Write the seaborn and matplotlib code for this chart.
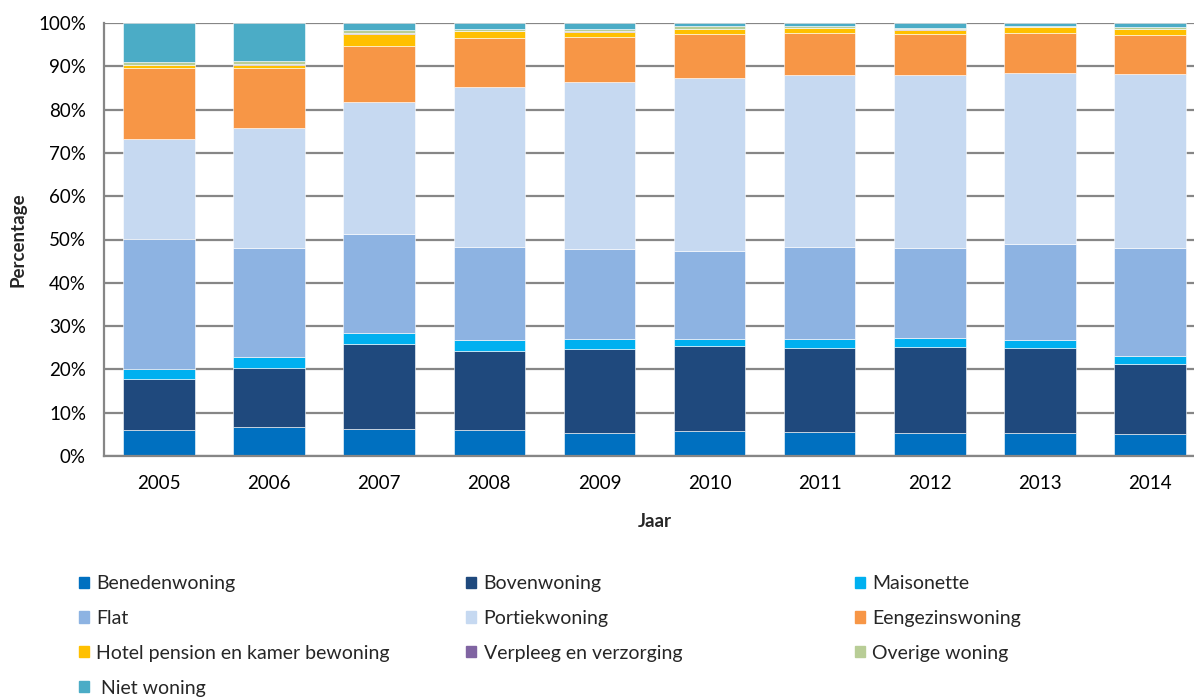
import matplotlib
matplotlib.use("Agg")
import matplotlib.pyplot as plt
import matplotlib.patches as mpatches
from matplotlib.ticker import FuncFormatter
import numpy as np
import seaborn as sns

years = ["2005", "2006", "2007", "2008", "2009", "2010", "2011", "2012", "2013", "2014"]

benedenwoning = [5.9, 6.8, 6.2, 5.9, 5.3, 5.7, 5.5, 5.4, 5.4, 5.0]
bovenwoning = [11.9, 13.6, 19.6, 18.3, 19.4, 19.7, 19.4, 19.8, 19.5, 16.3]
maisonette = [2.4, 2.4, 2.5, 2.6, 2.3, 1.6, 2.1, 2.0, 1.9, 1.9]
flat = [29.9, 25.3, 22.9, 21.5, 20.8, 20.4, 21.2, 20.9, 22.1, 24.9]
portiekwoning = [23.2, 27.7, 30.6, 37.0, 38.6, 39.9, 39.8, 39.8, 39.6, 40.1]
eengezinswoning = [16.3, 13.8, 12.9, 11.2, 10.4, 10.2, 9.7, 9.5, 9.1, 9.0]
hotel = [0.6, 0.8, 2.7, 1.6, 1.2, 1.0, 1.1, 1.0, 1.4, 1.3]
verpleeg = [0.1, 0.2, 0.2, 0.1, 0.1, 0.1, 0.1, 0.1, 0.1, 0.1]
overige = [0.8, 0.7, 0.7, 0.5, 0.6, 0.6, 0.3, 0.3, 0.2, 0.4]
niet_woning = [8.9, 8.7, 1.7, 1.3, 1.3, 0.8, 0.8, 1.2, 0.7, 1.0]

series = [
    ("Benedenwoning", benedenwoning, "#0070C0"),
    ("Bovenwoning", bovenwoning, "#1F497D"),
    ("Maisonette", maisonette, "#00B0F0"),
    ("Flat", flat, "#8DB3E2"),
    ("Portiekwoning", portiekwoning, "#C6D9F1"),
    ("Eengezinswoning", eengezinswoning, "#F79646"),
    ("Hotel pension en kamer bewoning", hotel, "#FFC000"),
    ("Verpleeg en verzorging", verpleeg, "#8064A2"),
    ("Overige woning", overige, "#B8CD96"),
    (" Niet woning", niet_woning, "#4BACC6"),
]

sns.set_style("white")
plt.rcParams["font.family"] = ["Lato", "DejaVu Sans"]
FS = 13.5

W, H = 1194, 697
fig = plt.figure(figsize=(W / 100, H / 100), dpi=100)
ax = fig.add_axes([104 / W, 1 - 456 / H, 1101 / W, 433 / H])

bottom = np.zeros(len(years))
for name, vals, col in series:
    sns.barplot(x=years, y=vals, bottom=bottom, color=col, saturation=1, width=0.65,
                edgecolor="#FFFFFF", linewidth=0.4, errorbar=None, ax=ax, zorder=2)
    bottom = bottom + np.array(vals)

ax.set_xlim(-0.5, 9.5)
ax.set_ylim(0, 100)
ax.set_yticks(np.arange(0, 101, 10))
ax.yaxis.set_major_formatter(FuncFormatter(lambda v, p: f"{int(v)}%"))
ax.set_axisbelow(True)
ax.yaxis.grid(True, color="#868686", linewidth=1.6)
ax.xaxis.grid(False)
for s in ["top", "right"]:
    ax.spines[s].set_visible(False)
for s in ["left", "bottom"]:
    ax.spines[s].set_color("#868686")
    ax.spines[s].set_linewidth(1.6)
ax.tick_params(axis="y", length=0, pad=13, labelsize=FS, colors="black")
ax.tick_params(axis="x", length=0, pad=14, labelsize=FS, colors="black")
ax.set_ylabel("Percentage", fontsize=FS, fontweight="bold", labelpad=8)
ax.set_xlabel("Jaar", fontsize=FS, fontweight="bold", labelpad=15)

# legend laid out row by row in three columns
cols_x = [79, 466, 855]
for c in range(3):
    items = series[c::3]
    handles = [mpatches.Patch(color=col, label=name) for name, _, col in items]
    fig.legend(handles=handles, loc="upper left",
               bbox_to_anchor=(cols_x[c] / W, 1 - 575 / H),
               frameon=False, fontsize=14, handlelength=0.5, handleheight=0.5,
               handletextpad=0.4, labelspacing=0.92, borderaxespad=0,
               borderpad=0)

fig.savefig("out.png", dpi=100)
